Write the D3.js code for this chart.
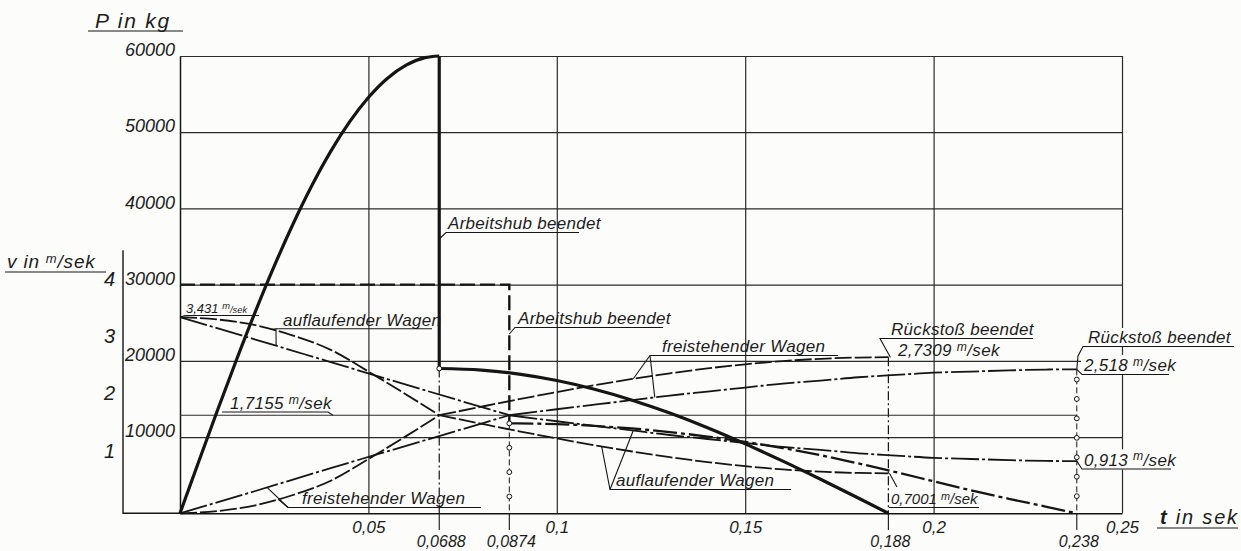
<!DOCTYPE html>
<html>
<head>
<meta charset="utf-8">
<script src="https://cdn.jsdelivr.net/npm/d3@7"></script>
<style>
  html, body { margin: 0; padding: 0; background: #fcfcfb; }
  svg { display: block; }
  text { font-family: "Liberation Sans", "DejaVu Sans", sans-serif; font-style: italic; fill: #1c1c1c; }
</style>
</head>
<body>
<svg id="chart" width="1241" height="551"></svg>
<script>
// ---------- axis ticks ----------
const timeTicks = [0.05, 0.1, 0.15, 0.2, 0.25];
const timeTickLabels = ["0,05", "0,1", "0,15", "0,2", "0,25"];
const forceTicks = [10000, 20000, 30000, 40000, 50000, 60000];
const forceTickLabels = ["10000", "20000", "30000", "40000", "50000", "60000"];
const speedTicks = [1, 2, 3, 4];
const speedTickLabels = ["1", "2", "3", "4"];
const eventTimes = [0.0688, 0.0874, 0.188, 0.238];
const eventLabels = ["0,0688", "0,0874", "0,188", "0,238"];

// ---------- buffer force P [kg] over t [sek] ----------
// case I: working stroke ends at 0.0688 s, recoil ends at 0.188 s
const forceStrokeA = [[0, 0], [0.005, 6830], [0.01, 13580], [0.015, 20150], [0.02, 26460],
  [0.025, 32420], [0.03, 37960], [0.035, 43010], [0.04, 47490], [0.045, 51350],
  [0.05, 54550], [0.055, 57050], [0.06, 58790], [0.065, 59780], [0.0688, 60000]];
const forceRecoilA = [[0.0688, 19000], [0.08, 18790], [0.09, 18260], [0.10, 17420],
  [0.11, 16270], [0.12, 14840], [0.13, 13150], [0.14, 11230], [0.15, 9110],
  [0.16, 6840], [0.17, 4460], [0.18, 2000], [0.188, 0]];
// case II: working stroke ends at 0.0874 s, recoil ends at 0.238 s
const forceStrokeB = [[0, 30000], [0.0874, 30000]];
const forceRecoilB = [[0.0874, 11800], [0.10, 11700], [0.11, 11470], [0.12, 11130],
  [0.13, 10650], [0.14, 10070], [0.15, 9370], [0.16, 8560], [0.17, 7620], [0.18, 6550],
  [0.19, 5400], [0.20, 4200], [0.21, 3000], [0.22, 1900], [0.23, 850], [0.238, 0]];

// ---------- wagon speeds v [m/sek] ----------
const startSpeed = 3.431;
const commonSpeed = 1.7155;
// case I
const freeStrokeA = [[0, 0], [0.01, 0.04], [0.02, 0.14], [0.03, 0.32], [0.04, 0.57],
  [0.05, 0.95], [0.06, 1.35], [0.0688, 1.7155]];
const runStrokeA = [[0, 3.431], [0.01, 3.39], [0.02, 3.29], [0.03, 3.11], [0.04, 2.86],
  [0.05, 2.48], [0.06, 2.08], [0.0688, 1.7155]];
const freeRecoilA = [[0.0688, 1.7155], [0.08, 1.865], [0.09, 1.996], [0.10, 2.121],
  [0.11, 2.24], [0.12, 2.35], [0.13, 2.449], [0.14, 2.535], [0.15, 2.606],
  [0.16, 2.663], [0.17, 2.703], [0.18, 2.725], [0.188, 2.7309]];
const runRecoilA = [[0.0688, 1.7155], [0.08, 1.566], [0.09, 1.435], [0.10, 1.31],
  [0.11, 1.191], [0.12, 1.081], [0.13, 0.982], [0.14, 0.896], [0.15, 0.825],
  [0.16, 0.768], [0.17, 0.728], [0.18, 0.706], [0.188, 0.7001]];
// case II
const freeStrokeB = [[0, 0], [0.02, 0.39], [0.04, 0.79], [0.06, 1.18], [0.0874, 1.7155]];
const runStrokeB = [[0, 3.431], [0.02, 3.04], [0.04, 2.645], [0.06, 2.25], [0.0874, 1.7155]];
const freeRecoilB = [[0.0874, 1.7155], [0.10, 1.82], [0.11, 1.90], [0.12, 1.98],
  [0.13, 2.06], [0.14, 2.13], [0.15, 2.20], [0.16, 2.27], [0.17, 2.32], [0.18, 2.38],
  [0.19, 2.42], [0.20, 2.46], [0.21, 2.48], [0.22, 2.50], [0.23, 2.515], [0.238, 2.518]];
const runRecoilB = [[0.0874, 1.7155], [0.10, 1.61], [0.11, 1.53], [0.12, 1.45],
  [0.13, 1.37], [0.14, 1.30], [0.15, 1.23], [0.16, 1.16], [0.17, 1.11], [0.18, 1.05],
  [0.19, 1.01], [0.20, 0.97], [0.21, 0.95], [0.22, 0.93], [0.23, 0.916], [0.238, 0.913]];

// ---------- scales ----------
const svg = d3.select("#chart");
const ink = "#151515";
const x = d3.scaleLinear().domain([0, 0.25]).range([180, 1122]);
const yP = d3.scaleLinear().domain([0, 60000]).range([513.3, 56]);
const yV = d3.scaleLinear().domain([0, 4]).range([yP(0), yP(30000)]);

// linear lookup inside a read-off series
function valueAt(series, t) {
  for (let i = 1; i < series.length; i++) {
    const [t0, v0] = series[i - 1], [t1, v1] = series[i];
    if (t >= t0 && t <= t1) return v0 + (v1 - v0) * (t - t0) / (t1 - t0);
  }
  return series[series.length - 1][1];
}

// ---------- grid and axes ----------
const gridH = yP(0) - yP(60000);
const gx = svg.append("g")
  .attr("transform", `translate(0,${yP(0)})`)
  .call(d3.axisBottom(x).tickValues(timeTicks)
    .tickFormat((d, i) => timeTickLabels[i])
    .tickSize(-gridH).tickSizeOuter(0).tickPadding(6));
gx.selectAll(".tick line").attr("stroke", "#2b2b2b").attr("stroke-width", 1.2);
gx.select(".domain").attr("stroke", ink).attr("stroke-width", 1.5);
gx.selectAll("text").attr("font-size", 17).attr("dy", "0.82em");

const gy = svg.append("g")
  .attr("transform", `translate(${x(0)},0)`)
  .call(d3.axisLeft(yP).tickValues(forceTicks)
    .tickFormat((d, i) => forceTickLabels[i])
    .tickSize(-(x(0.25) - x(0))).tickSizeOuter(0).tickPadding(5));
gy.selectAll(".tick line").attr("stroke", "#2b2b2b").attr("stroke-width", 1.2);
gy.select(".domain").attr("stroke", ink).attr("stroke-width", 1.5);
gy.selectAll("text").attr("font-size", 18).attr("dy", "-0.02em");

// speed axis further left
const vAxisX = 123;
const gv = svg.append("g")
  .attr("transform", `translate(${vAxisX},0)`)
  .call(d3.axisLeft(yV).tickValues(speedTicks)
    .tickFormat((d, i) => speedTickLabels[i])
    .tickSize(0).tickPadding(8));
gv.select(".domain").remove();
gv.selectAll("text").attr("font-size", 20).attr("dy", "0.05em");
svg.append("path")
  .attr("d", d3.line()([[vAxisX, yV(4.6)], [vAxisX, yV(0)], [x(0), yV(0)]]))
  .attr("fill", "none").attr("stroke", ink).attr("stroke-width", 1.4);

// axis titles
function underline(x1, x2, y) {
  svg.append("line").attr("x1", x1).attr("x2", x2).attr("y1", y).attr("y2", y)
    .attr("stroke", ink).attr("stroke-width", 1.2);
}
svg.append("text").attr("x", 95).attr("y", 28).attr("font-size", 21)
  .attr("letter-spacing", 1.8).text("P in kg");
underline(88, 183, 31);

const vTitle = svg.append("text").attr("x", 7).attr("y", 268).attr("font-size", 19)
  .attr("letter-spacing", 0.8);
vTitle.append("tspan").text("v in ");
vTitle.append("tspan").attr("font-size", 13).attr("dy", -5).text("m");
vTitle.append("tspan").attr("dy", 5).text("/sek");
underline(5, 106, 272);

const tTitle = svg.append("text").attr("x", 1160).attr("y", 524).attr("font-size", 20)
  .attr("letter-spacing", 1.8);
tTitle.append("tspan").attr("font-weight", "bold").text("t");
tTitle.append("tspan").text(" in sek");
underline(1157, 1238, 528);

// ---------- event markers ----------
const eg = svg.append("g");
eventTimes.forEach((t, i) => {
  eg.append("line").attr("x1", x(t)).attr("x2", x(t))
    .attr("y1", yP(0)).attr("y2", 530).attr("stroke", ink).attr("stroke-width", 1.1);
  eg.append("text").attr("x", x(t) + 2).attr("y", 547).attr("font-size", 16)
    .attr("text-anchor", "middle").text(eventLabels[i]);
});
// end of working stroke, case I
eg.append("line").attr("x1", x(0.0688)).attr("x2", x(0.0688))
  .attr("y1", yP(19000)).attr("y2", yP(0))
  .attr("stroke", ink).attr("stroke-width", 1.2).attr("stroke-dasharray", "9,3,2,3");
// end of working stroke, case II
eg.append("line").attr("x1", x(0.0874)).attr("x2", x(0.0874))
  .attr("y1", yP(11800)).attr("y2", yP(0))
  .attr("stroke", ink).attr("stroke-width", 1.0).attr("stroke-dasharray", "6,3");
// end of recoil, case I
eg.append("line").attr("x1", x(0.188)).attr("x2", x(0.188))
  .attr("y1", yV(2.7309)).attr("y2", yP(0))
  .attr("stroke", ink).attr("stroke-width", 1.2).attr("stroke-dasharray", "9,3,2,3");
// end of recoil, case II
eg.append("line").attr("x1", x(0.238)).attr("x2", x(0.238))
  .attr("y1", yV(2.518)).attr("y2", yP(0))
  .attr("stroke", ink).attr("stroke-width", 1.0).attr("stroke-dasharray", "6,3");

// common speed after coupling
svg.append("line").attr("x1", x(0)).attr("x2", x(0.238))
  .attr("y1", yV(commonSpeed)).attr("y2", yV(commonSpeed))
  .attr("stroke", "#2b2b2b").attr("stroke-width", 1.2);

// ---------- curves ----------
const lineP = d3.line().x(d => x(d[0])).y(d => yP(d[1])).curve(d3.curveMonotoneX);
const lineV = d3.line().x(d => x(d[0])).y(d => yV(d[1])).curve(d3.curveMonotoneX);
const cg = svg.append("g").attr("fill", "none").attr("stroke", ink)
  .attr("stroke-linecap", "butt");

// speeds, case I (long dashes) and case II (long dash-dot)
const dashA = "17,3", dashB = "28,3,3,3";
[[freeStrokeA, dashA], [runStrokeA, dashA], [freeRecoilA, dashA], [runRecoilA, dashA],
 [freeStrokeB, dashB], [runStrokeB, dashB], [freeRecoilB, dashB], [runRecoilB, dashB]]
  .forEach(([s, dash]) => {
    cg.append("path").attr("d", lineV(s)).attr("stroke-width", 1.8)
      .attr("stroke-dasharray", dash);
  });

// force, case II (heavy dashed)
cg.append("path").attr("d", d3.line().x(d => x(d[0])).y(d => yP(d[1]))(
    forceStrokeB.concat([[0.0874, forceRecoilB[0][1]]])))
  .attr("stroke-width", 2.4).attr("stroke-dasharray", "15,5");
cg.append("path").attr("d", lineP(forceRecoilB))
  .attr("stroke-width", 2.3).attr("stroke-dasharray", "24,4,4,4");

// force, case I (heavy solid)
cg.append("path").attr("d", lineP(forceStrokeA)).attr("stroke-width", 3.2);
cg.append("path").attr("d", d3.line()([[x(0.0688), yP(60000)], [x(0.0688), yP(19000)]]))
  .attr("stroke-width", 3.2);
cg.append("path").attr("d", lineP(forceRecoilA)).attr("stroke-width", 3.2);

// small rings along the marker lines
const rings = [[0.0688, yP(19000)]];
d3.range(11800, 1000, -3200).forEach(p => rings.push([0.0874, yP(p)]));
d3.range(2.34, 0.2, -0.34).forEach(v => rings.push([0.238, yV(v)]));
svg.append("g").selectAll("circle").data(rings).join("circle")
  .attr("cx", d => x(d[0])).attr("cy", d => d[1]).attr("r", 2.4)
  .attr("fill", "#fcfcfb").attr("stroke", ink).attr("stroke-width", 1);

// ---------- annotations ----------
const ag = svg.append("g");
function leader(pts) {
  ag.append("path").attr("d", d3.line()(pts)).attr("fill", "none")
    .attr("stroke", ink).attr("stroke-width", 1.1);
}
function label(tx, ty, str, size, opts = {}) {
  const t = ag.append("text").attr("x", tx).attr("y", ty).attr("font-size", size)
    .attr("letter-spacing", opts.ls ?? 0.3);
  if (opts.unit) {
    t.append("tspan").text(str + " ");
    t.append("tspan").attr("font-size", size * 0.72).attr("dy", -size * 0.3).text("m");
    t.append("tspan").attr("font-size", opts.smallUnit ? size * 0.72 : size)
      .attr("dy", size * 0.3).text("/sek");
  } else {
    t.text(str);
  }
  if (opts.bg) {
    const b = t.node().getBBox();
    ag.insert("rect", () => t.node()).attr("x", b.x - 2).attr("y", b.y)
      .attr("width", b.width + 4).attr("height", b.height).attr("fill", "#fcfcfb");
  }
  return t;
}
const ptV = (series, t) => [x(t), yV(valueAt(series, t))];

// initial speed
label(186, 312.5, "3,431", 13, { unit: true, smallUnit: true, ls: 0 });
leader([[x(0), yV(startSpeed)], [185, 315.5], [259, 315.5]]);

// approaching wagon, upper
label(283, 325.5, "auflaufender Wagen", 17);
leader([[432, 328.8], [276, 328.8], ptV(runStrokeA, 0.0242)]);
leader([[276, 328.8], ptV(runStrokeB, 0.0255)]);

// common speed
label(230, 409, "1,7155", 17, { unit: true });
leader([[222, 412], [328, 412], [333, yV(commonSpeed)]]);

// free-standing wagon, lower
label(302, 504, "freistehender Wagen", 17);
leader([[481, 507.5], [288, 507.5], ptV(freeStrokeB, 0.0231)]);
leader([[288, 507.5], ptV(freeStrokeA, 0.026)]);

// end of working stroke
label(448, 229, "Arbeitshub beendet", 17);
leader([[x(0.0688), 239], [446, 232.5], [579, 232.5]]);
label(518, 324, "Arbeitshub beendet", 17);
leader([[x(0.0874), 334], [515, 327.5], [663, 327.5]]);

// free-standing wagon, upper
label(662, 352, "freistehender Wagen", 17);
leader([[838, 355.5], [650, 355.5], ptV(freeRecoilA, 0.1203)]);
leader([[650, 355.5], ptV(freeRecoilB, 0.126)]);

// approaching wagon, lower
label(616, 486, "auflaufender Wagen", 17);
leader([[791, 489.5], [610, 489.5], ptV(runRecoilA, 0.1119)]);
leader([[610, 489.5], ptV(runRecoilB, 0.1203)]);

// end of recoil, case I
label(891, 335, "Rückstoß beendet", 17);
leader([[1033, 338.5], [880, 338.5], [x(0.188) + 2, yV(2.7309)]]);
label(898, 356, "2,7309", 17, { unit: true });
label(891, 504, "0,7001", 15, { unit: true, ls: 0 });
leader([[x(0.188) + 1, yV(0.7001)], [897, 487]]);
leader([[889, 507.5], [979, 507.5]]);

// end of recoil, case II
label(1088, 343, "Rückstoß beendet", 17, { bg: true });
leader([[1234, 346.5], [1083, 346.5], [1078, 356], [x(0.238), yV(2.518)]]);
label(1084, 371, "2,518", 17, { unit: true, bg: true });
leader([[x(0.238), yV(2.518)], [1082, 374.5], [1169, 374.5]]);
label(1084, 465.5, "0,913", 17, { unit: true, bg: true });
leader([[x(0.238), yV(0.913)], [1082, 469], [1171, 469]]);
</script>
</body>
</html>
